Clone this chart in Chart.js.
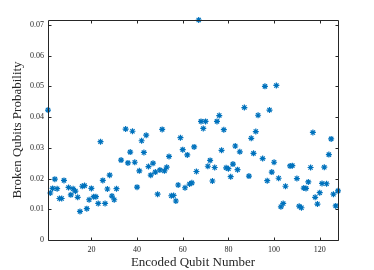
<!DOCTYPE html>
<html>
<head>
<meta charset="utf-8">
<title>Broken Qubits Probability</title>
<script src="https://cdn.jsdelivr.net/npm/chart.js@4"></script>
<style>
  body { margin: 0; background: #fff; }
</style>
</head>
<body>
<canvas id="my-chart" width="374" height="270"></canvas>
<script>
'use strict'
///data///
let qubitNumbers = [1, 2, 3, 4, 5, 6, 7, 8, 10, 11, 12, 13, 14, 15, 16, 17, 18, 19, 20,
  21, 22, 23, 24, 25, 26, 27, 28, 29, 30, 31, 33, 35, 36, 37, 38, 39, 40,
  41, 42, 43, 44, 45, 46, 47, 48, 49, 50, 51, 52, 53, 54, 55, 56, 57, 58, 59, 60,
  61, 62, 63, 64, 65, 66, 67, 68, 69, 70, 71, 72, 73, 74, 75, 76, 77, 78, 79, 80,
  81, 82, 83, 84, 85, 87, 89, 90, 91, 92, 93, 95, 96, 97, 98, 99, 100,
  101, 102, 103, 104, 105, 107, 108, 110, 111, 112, 113, 114, 115, 116, 117, 118, 119, 120,
  121, 122, 123, 124, 125, 126, 127, 128]
let brokenProb = [0.0423, 0.0153, 0.0168, 0.0198, 0.0167, 0.0135, 0.0135, 0.0194, 0.0171, 0.0147, 0.0167, 0.0159, 0.0139, 0.0093, 0.0175, 0.0177, 0.0102, 0.0131, 0.0168,
  0.0141, 0.0141, 0.0119, 0.0320, 0.0194, 0.0119, 0.0166, 0.0211, 0.0143, 0.0131, 0.0167, 0.0260, 0.0361, 0.0251, 0.0286, 0.0354, 0.0253, 0.0172,
  0.0225, 0.0323, 0.0285, 0.0341, 0.0239, 0.0211, 0.0250, 0.0221, 0.0149, 0.0228, 0.0360, 0.0225, 0.0237, 0.0272, 0.0144, 0.0145, 0.0127, 0.0179, 0.0333, 0.0294,
  0.0170, 0.0277, 0.0182, 0.0186, 0.0303, 0.0223, 0.0716, 0.0386, 0.0363, 0.0386, 0.0240, 0.0259, 0.0192, 0.0236, 0.0386, 0.0405, 0.0292, 0.0359, 0.0235, 0.0232,
  0.0206, 0.0247, 0.0306, 0.0229, 0.0287, 0.0431, 0.0208, 0.0331, 0.0282, 0.0353, 0.0406, 0.0265, 0.0500, 0.0193, 0.0423, 0.0221, 0.0253,
  0.0503, 0.0201, 0.0108, 0.0119, 0.0175, 0.0241, 0.0242, 0.0200, 0.0110, 0.0105, 0.0169, 0.0168, 0.0189, 0.0236, 0.0350, 0.0139, 0.0117, 0.0154,
  0.0184, 0.0237, 0.0183, 0.0278, 0.0329, 0.0149, 0.0111, 0.0160]
let xTicks = [20, 40, 60, 80, 100, 120]
let yTicks = [0, 0.01, 0.02, 0.03, 0.04, 0.05, 0.06, 0.07]

let axisColor = '#262626'
let serif = '"Liberation Serif", "DejaVu Serif", serif'

let points = []
for (let i = 0; i < qubitNumbers.length; i++) {
  points.push({ x: qubitNumbers[i], y: brokenProb[i] })
}

///box round the plot plus inward tick marks (matlab look)
let boxTicks = {
  id: 'boxTicks',
  afterDraw(chart) {
    let c = chart.ctx
    let a = chart.chartArea
    let sx = chart.scales.x
    let sy = chart.scales.y
    let L = Math.round(a.left) + 0.5, R = Math.round(a.right) + 0.5
    let T = Math.round(a.top) + 0.5, B = Math.round(a.bottom) + 0.5
    c.save()
    c.strokeStyle = axisColor
    c.lineWidth = 1
    c.beginPath()
    c.rect(L, T, R - L, B - T)
    xTicks.forEach(v => {
      let px = Math.round(sx.getPixelForValue(v)) + 0.5
      c.moveTo(px, B); c.lineTo(px, B - 3)
      c.moveTo(px, T); c.lineTo(px, T + 3)
    })
    yTicks.forEach(v => {
      let py = Math.round(sy.getPixelForValue(v)) + 0.5
      c.moveTo(L, py); c.lineTo(L + 3, py)
      c.moveTo(R, py); c.lineTo(R - 3, py)
    })
    c.stroke()
    c.restore()
  }
}

let ctx = document.getElementById('my-chart').getContext('2d')

let chartObject = {
  type: 'scatter',
  data: {
    datasets: [{
      data: points,
      pointStyle: 'star',
      radius: 3,
      borderWidth: 1.2,
      borderColor: 'rgb(0,114,189)',
      backgroundColor: 'rgb(0,114,189)',
      clip: false
    }]
  },
  options: {
    responsive: false,
    animation: false,
    events: [],
    layout: { padding: { top: 20, right: 36, left: 0, bottom: 0 } },
    plugins: { legend: { display: false }, tooltip: { enabled: false } },
    scales: {
      x: {
        type: 'linear',
        min: 1,
        max: 128,
        grid: { display: false, drawTicks: false },
        border: { display: false },
        afterBuildTicks: s => { s.ticks = xTicks.map(v => ({ value: v })) },
        afterFit: s => { s.height = 30 },
        ticks: { color: axisColor, font: { family: serif, size: 8 }, padding: 5, maxRotation: 0 },
        title: { display: true, text: 'Encoded Qubit Number', color: axisColor, font: { family: serif, size: 13 }, padding: { top: 2, bottom: 0 } }
      },
      y: {
        min: 0,
        max: 0.0716,
        grid: { display: false, drawTicks: false },
        border: { display: false },
        afterBuildTicks: s => { s.ticks = yTicks.map(v => ({ value: v })) },
        afterFit: s => { s.width = 48 },
        ticks: {
          color: axisColor,
          font: { family: serif, size: 8 },
          padding: 4,
          callback: v => v === 0 ? '0' : v.toFixed(2)
        },
        title: { display: true, text: 'Broken Qubits Probability', color: axisColor, font: { family: serif, size: 13 }, padding: { top: 10, bottom: 0 } }
      }
    }
  },
  plugins: [boxTicks]
}

const myChart = new Chart(ctx, chartObject)
</script>
</body>
</html>
